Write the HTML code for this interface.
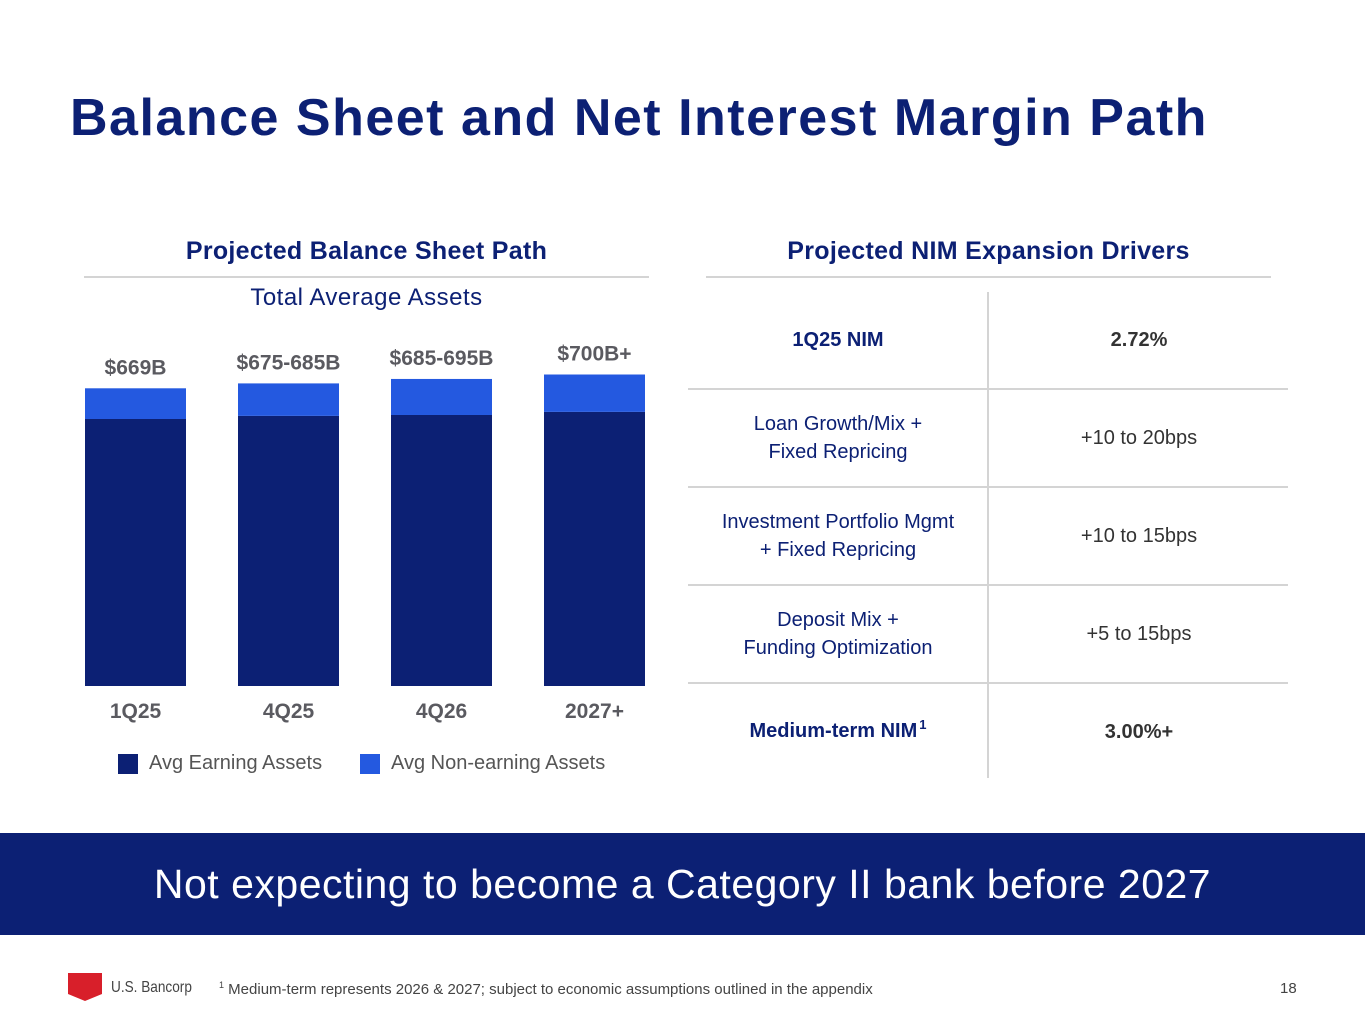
<!DOCTYPE html>
<html><head><meta charset="utf-8"><style>
body{margin:0;width:1365px;height:1024px;background:#fff;font-family:"Liberation Sans",sans-serif;position:relative;overflow:hidden}
.a{position:absolute}
.navy{color:#0c2074}
.c{text-align:center}
.cell{position:absolute;display:flex;align-items:center;justify-content:center;text-align:center;font-size:20px;line-height:28px}
.hl{position:absolute;height:2px;background:#d4d4d4}
</style></head><body>
<div class="a navy" style="left:70px;top:88px;font-size:52px;font-weight:bold;letter-spacing:1.5px">Balance Sheet and Net Interest Margin Path</div>

<div class="a navy c" style="left:84px;width:565px;top:237px;font-size:25px;font-weight:bold;letter-spacing:0.3px">Projected Balance Sheet Path</div>
<div class="hl" style="left:84px;width:565px;top:276px"></div>
<div class="a navy c" style="left:84px;width:565px;top:284px;font-size:24px;letter-spacing:0.5px">Total Average Assets</div>

<svg class="a" style="left:0;top:0" width="700" height="800" id="chart"></svg>

<div class="a" style="left:118px;top:752px;font-size:20px;color:#555;display:flex;align-items:center"><span style="display:inline-block;width:20px;height:20px;background:#0c2074;margin-right:11px"></span>Avg Earning Assets</div>
<div class="a" style="left:360px;top:752px;font-size:20px;color:#555;display:flex;align-items:center"><span style="display:inline-block;width:20px;height:20px;background:#2459e0;margin-right:11px"></span>Avg Non-earning Assets</div>

<div class="a navy c" style="left:706px;width:565px;top:237px;font-size:25px;font-weight:bold;letter-spacing:0.3px">Projected NIM Expansion Drivers</div>
<div class="hl" style="left:706px;width:565px;top:276px"></div>
<div class="a" style="left:987px;top:292px;width:2px;height:486px;background:#d4d4d4"></div>
<div class="hl" style="left:688px;width:600px;top:388px"></div>
<div class="hl" style="left:688px;width:600px;top:486px"></div>
<div class="hl" style="left:688px;width:600px;top:584px"></div>
<div class="hl" style="left:688px;width:600px;top:682px"></div>

<div class="cell navy" style="left:688px;width:300px;top:292px;height:96px;font-weight:bold">1Q25 NIM</div>
<div class="cell" style="left:989px;width:300px;top:292px;height:96px;font-weight:bold;color:#333">2.72%</div>
<div class="cell navy" style="left:688px;width:300px;top:390px;height:96px">Loan Growth/Mix +<br>Fixed Repricing</div>
<div class="cell" style="left:989px;width:300px;top:390px;height:96px;color:#333">+10 to 20bps</div>
<div class="cell navy" style="left:688px;width:300px;top:488px;height:96px">Investment Portfolio Mgmt<br>+ Fixed Repricing</div>
<div class="cell" style="left:989px;width:300px;top:488px;height:96px;color:#333">+10 to 15bps</div>
<div class="cell navy" style="left:688px;width:300px;top:586px;height:96px">Deposit Mix +<br>Funding Optimization</div>
<div class="cell" style="left:989px;width:300px;top:586px;height:96px;color:#333">+5 to 15bps</div>
<div class="cell navy" style="left:688px;width:300px;top:684px;height:96px;font-weight:bold"><span>Medium-term NIM<span style="font-size:13px;position:relative;top:-8px;margin-left:2px">1</span></span></div>
<div class="cell" style="left:989px;width:300px;top:684px;height:96px;font-weight:bold;color:#333">3.00%+</div>

<div class="a" style="left:0;top:833px;width:1365px;height:102px;background:#0c2074;display:flex;align-items:center;justify-content:center;color:#fff;font-size:41px;letter-spacing:0.5px">Not expecting to become a Category II bank before 2027</div>

<div class="a" style="left:68px;top:973px;width:34px;height:28px;background:#d81f2a;clip-path:polygon(0 0,100% 0,100% 75%,50% 100%,0 75%)"></div>
<div class="a" style="left:111px;top:979px;font-size:16px;color:#444;transform:scaleX(0.85);transform-origin:left">U.S. Bancorp</div>
<div class="a" style="left:219px;top:980px;font-size:15px;color:#444"><sup style="font-size:9px">1</sup> Medium-term represents 2026 &amp; 2027; subject to economic assumptions outlined in the appendix</div>
<div class="a" style="left:1280px;top:980px;font-size:15px;color:#444">18</div>

<script>
const categories=["1Q25","4Q25","4Q26","2027+"];
const earning=[600,607,609,616];
const nonEarning=[69,73,81,84];
const totalLabels=["$669B","$675-685B","$685-695B","$700B+"];
const svg=document.getElementById('chart');
const NS="http://www.w3.org/2000/svg";
const baseY=686, scale=0.445, x0=85, step=153, bw=101;
const y=v=>baseY-v*scale;
function mk(t,a){const e=document.createElementNS(NS,t);for(const k in a)e.setAttribute(k,a[k]);svg.appendChild(e);return e;}
categories.forEach((c,i)=>{
  const x=x0+i*step;
  const e=mk('rect',{x:x,y:y(earning[i]),width:bw,height:earning[i]*scale,fill:'#0c2074'});
  
  
  const tot=earning[i]+nonEarning[i];
  const n=mk('rect',{x:x,y:y(tot),width:bw,height:nonEarning[i]*scale,fill:'#2459e0'});
  
  
  const l=mk('text',{x:x+bw/2,y:y(tot)-14,'text-anchor':'middle','font-size':21,'font-weight':'bold',fill:'#5a5a60','font-family':'Liberation Sans'});
  l.textContent=totalLabels[i];
  
  
  const t=mk('text',{x:x+bw/2,y:718,'text-anchor':'middle','font-size':21,'font-weight':'bold',fill:'#5a5a60','font-family':'Liberation Sans'});
  t.textContent=c;
  
  
});
</script>
</body></html>
